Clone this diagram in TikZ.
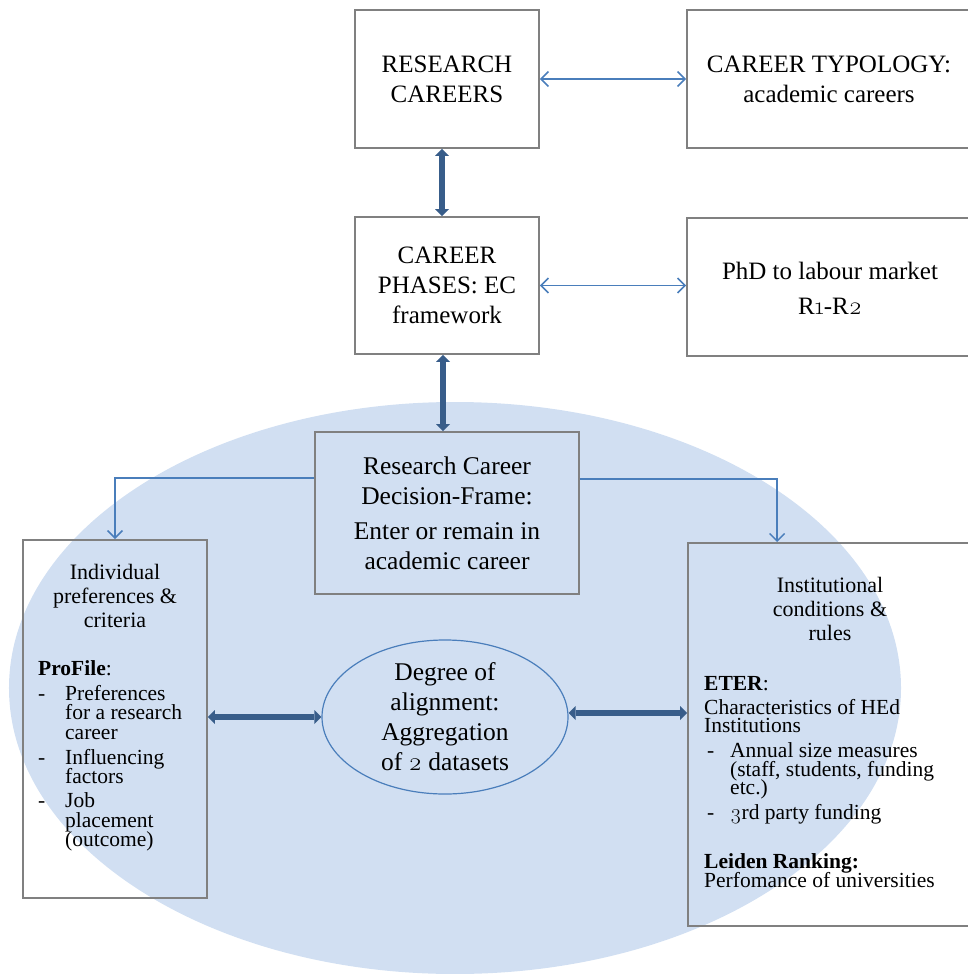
\documentclass[tikz,border=0pt]{standalone}
\usepackage{fontspec}
\setmainfont{Liberation Serif}
\newfontfamily\osf{Latin Modern Roman}[Numbers=OldStyle]
\usetikzlibrary{arrows.meta,shapes.geometric}
\definecolor{bigfill}{RGB}{209,223,242}
\definecolor{thinblue}{RGB}{74,126,187}
\definecolor{thickblue}{RGB}{56,93,138}
\definecolor{boxline}{RGB}{128,128,128}
\newcommand\fTop{\fontsize{25bp}{30bp}\selectfont}
\newcommand\fMid{\fontsize{25.5bp}{30bp}\selectfont}
\newcommand\fTitle{\fontsize{22bp}{24bp}\selectfont}
\newcommand\fList{\fontsize{21.5bp}{19.5bp}\selectfont\lineskiplimit=-50bp}
\newcommand\fListR{\fontsize{21.5bp}{18.5bp}\selectfont\lineskiplimit=-50bp}
\tikzset{
  box/.style={draw=boxline, line width=1.8bp, inner sep=0pt, rectangle},
  topbox/.style={box, fill=white},
  txt/.style={inner sep=0pt, align=center},
  thinboth/.style={draw=thinblue, line width=1.5bp,
    {Straight Barb[length=7.5bp,width=15bp]}-{Straight Barb[length=7.5bp,width=15bp]}},
  thinone/.style={draw=thinblue, line width=1.5bp,
    -{Straight Barb[length=7.5bp,width=15bp]}},
  thickboth/.style={draw=thickblue, line width=6.5bp,
    {Triangle[length=7bp,width=14bp,line width=0pt]}-{Triangle[length=7bp,width=14bp,line width=0pt]}}
}
\begin{document}
\begin{tikzpicture}[x=1bp,y=-1bp]
\useasboundingbox (0,0) rectangle (968,974);
% large background ellipse
\fill[bigfill] (455,688) ellipse [x radius=446bp, y radius=286bp];

% top boxes
\node[topbox, minimum width=184bp, minimum height=138bp, font=\fTop, align=center] (rc) at (447,79) {RESEARCH\\CAREERS};
\node[topbox, minimum width=293bp, minimum height=138bp] (ct) at (833.5,79) {};
\node[txt, font=\fTop] (ctt) at (829,79) {CAREER TYPOLOGY:\\academic careers};
\node[topbox, minimum width=184bp, minimum height=137bp, font=\fTop, align=center] (cp) at (447,285.5) {CAREER\\PHASES: EC\\framework};
\node[topbox, minimum width=293bp, minimum height=138bp] (phd) at (833.5,287) {};
\node[txt, font=\fTop] (phdt) at (830,288) {PhD to labour market\\[5bp]R{\osf 1}-R{\osf 2}};

% decision frame
\node[box, minimum width=264bp, minimum height=162bp, font=\fMid, align=center] (dec) at (447,513)
  {Research Career\\Decision-Frame:\\[5bp]Enter or remain in\\academic career};

% left box
\node[box, minimum width=184bp, minimum height=358bp] (lbox) at (115,719) {};
\node[txt, font=\fTitle] (ltitle) at (115,596) {Individual\\preferences \&\\criteria};
\node[inner sep=0pt, anchor=north west, align=left, font=\fList] (llist) at (38,660)
  {\textbf{ProFile}:\\[5.5bp]
   \makebox[27bp][l]{-}Preferences\\
   \hspace*{27bp}for a research\\
   \hspace*{27bp}career\\[5.5bp]
   \makebox[27bp][l]{-}Influencing\\
   \hspace*{27bp}factors\\[4.5bp]
   \makebox[27bp][l]{-}Job\\
   \hspace*{27bp}placement\\
   \hspace*{27bp}(outcome)};

% right box
\node[box, minimum width=292bp, minimum height=383bp] (rbox) at (834,734.5) {};
\node[txt, font=\fTitle] (rtitle) at (830,609) {Institutional\\conditions \&\\rules};
\node[inner sep=0pt, anchor=north west, align=left, font=\fListR] (rlist) at (704,676)
  {\textbf{ETER}:\\[5.5bp]
   Characteristics of HEd\\
   Institutions\\[6.5bp]
   \makebox[26bp][l]{\hspace{3bp}-}Annual size measures\\
   \hspace*{26bp}(staff, students, funding\\
   \hspace*{26bp}etc.)\\[6.5bp]
   \makebox[26bp][l]{\hspace{3bp}-}{\osf 3}rd party funding\\[30.5bp]
   \textbf{Leiden Ranking:}\\
   Perfomance of universities};

% degree of alignment
\node[ellipse, draw=thinblue, line width=1.2bp, minimum width=246bp, minimum height=154bp,
      inner sep=0pt, font=\fMid, align=center] (deg) at (445,717)
  {Degree of\\alignment:\\Aggregation\\of {\osf 2} datasets};

% connectors
\draw[thinboth] (rc.east) -- (ct.west);
\draw[thinboth] (cp.east) -- (cp.east -| phd.west);
\draw[thickboth] ([xshift=-5bp]rc.south) -- ([xshift=-5bp]cp.north);
\draw[thickboth] ([xshift=-4bp]cp.south) -- ([xshift=-4bp]dec.north);
\draw[thinone] ([yshift=35bp]dec.west) -| (lbox.north);
\draw[thinone] ([yshift=34bp]dec.east) -| ([xshift=90bp]rbox.north west);
\draw[thickboth] (deg.west -| lbox.east) -- (deg.west);
\draw[thickboth] ([yshift=4bp]deg.east) -- ([yshift=4bp]deg.east -| rbox.west);
\end{tikzpicture}
\end{document}
